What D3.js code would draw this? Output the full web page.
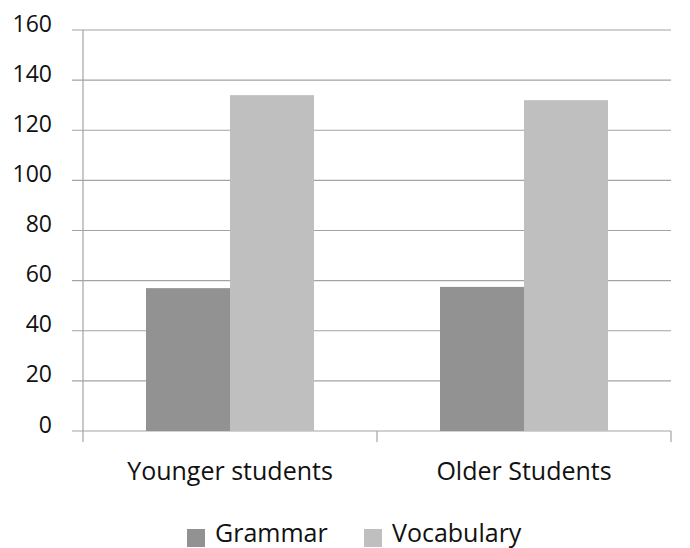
<!DOCTYPE html>
<html>
<head>
<meta charset="utf-8">
<script src="https://cdn.jsdelivr.net/npm/d3@7"></script>
<style>
  html, body { margin: 0; padding: 0; background: #fff; }
  svg text { font-family: "Open Sans", "Noto Sans", sans-serif; fill: #111; }
</style>
</head>
<body>
<svg id="chart" width="690" height="548"></svg>
<script>
// Chart data
const categories = ["Younger students", "Older Students"];
const seriesNames = ["Grammar", "Vocabulary"];
const grammar = [57, 57.5];
const vocabulary = [134, 132];
const yTicks = [0, 20, 40, 60, 80, 100, 120, 140, 160];
const seriesColors = ["#929292", "#bfbfbf"];

const svg = d3.select("#chart");
const margin = { left: 83, right: 19, top: 30, bottom: 117 };
const W = 690, H = 548;

const x0 = d3.scaleBand().domain(categories)
  .range([margin.left, W - margin.right]).paddingInner(0).paddingOuter(0);
const x1 = d3.scaleBand().domain(seriesNames)
  .range([0, x0.bandwidth()]).paddingInner(0).paddingOuter(0.75);
const y = d3.scaleLinear().domain([0, 160]).range([H - margin.bottom, margin.top]);

const gridColor = "#a3a3a3";

// horizontal gridlines, extending a short tick to the left of the axis
svg.append("g").selectAll("line").data(yTicks).join("line")
  .attr("x1", margin.left - 11).attr("x2", W - margin.right)
  .attr("y1", d => y(d)).attr("y2", d => y(d))
  .attr("stroke", gridColor).attr("stroke-width", 1.2);

// y-axis tick labels
svg.append("g").selectAll("text").data(yTicks).join("text")
  .attr("x", 52).attr("y", d => y(d) + 1.5)
  .attr("text-anchor", "end")
  .style("font-size", "23px")
  .text(d => d);

// bars
const rows = categories.map((c, i) => ({ cat: c, vals: [grammar[i], vocabulary[i]] }));
const groups = svg.append("g").selectAll("g").data(rows).join("g")
  .attr("transform", d => `translate(${x0(d.cat)},0)`);
groups.selectAll("rect").data(d => d.vals.map((v, j) => ({ key: seriesNames[j], v, j })))
  .join("rect")
  .attr("x", d => x1(d.key))
  .attr("width", x1.bandwidth())
  .attr("y", d => y(d.v))
  .attr("height", d => y(0) - y(d.v))
  .attr("fill", d => seriesColors[d.j]);

// vertical axis line and category separators
svg.append("line")
  .attr("x1", margin.left).attr("x2", margin.left)
  .attr("y1", y(160)).attr("y2", y(0) + 11)
  .attr("stroke", gridColor).attr("stroke-width", 1.2);
const seps = categories.map(c => x0(c) + x0.bandwidth());
svg.append("g").selectAll("line").data(seps).join("line")
  .attr("x1", d => d).attr("x2", d => d)
  .attr("y1", y(0)).attr("y2", y(0) + 11)
  .attr("stroke", gridColor).attr("stroke-width", 1.2);

// category labels
svg.append("g").selectAll("text").data(categories).join("text")
  .attr("x", d => x0(d) + x0.bandwidth() / 2)
  .attr("y", 480)
  .attr("text-anchor", "middle")
  .style("font-size", "25px")
  .text(d => d);

// legend
const legendX = [187, 364];
const legend = svg.append("g").selectAll("g").data(seriesNames).join("g")
  .attr("transform", (d, i) => `translate(${legendX[i]},0)`);
legend.append("rect")
  .attr("x", 0).attr("y", 529).attr("width", 18).attr("height", 18)
  .attr("fill", (d, i) => seriesColors[i]);
legend.append("text")
  .attr("x", 28).attr("y", 542)
  .style("font-size", "25px")
  .text(d => d);
</script>
</body>
</html>
